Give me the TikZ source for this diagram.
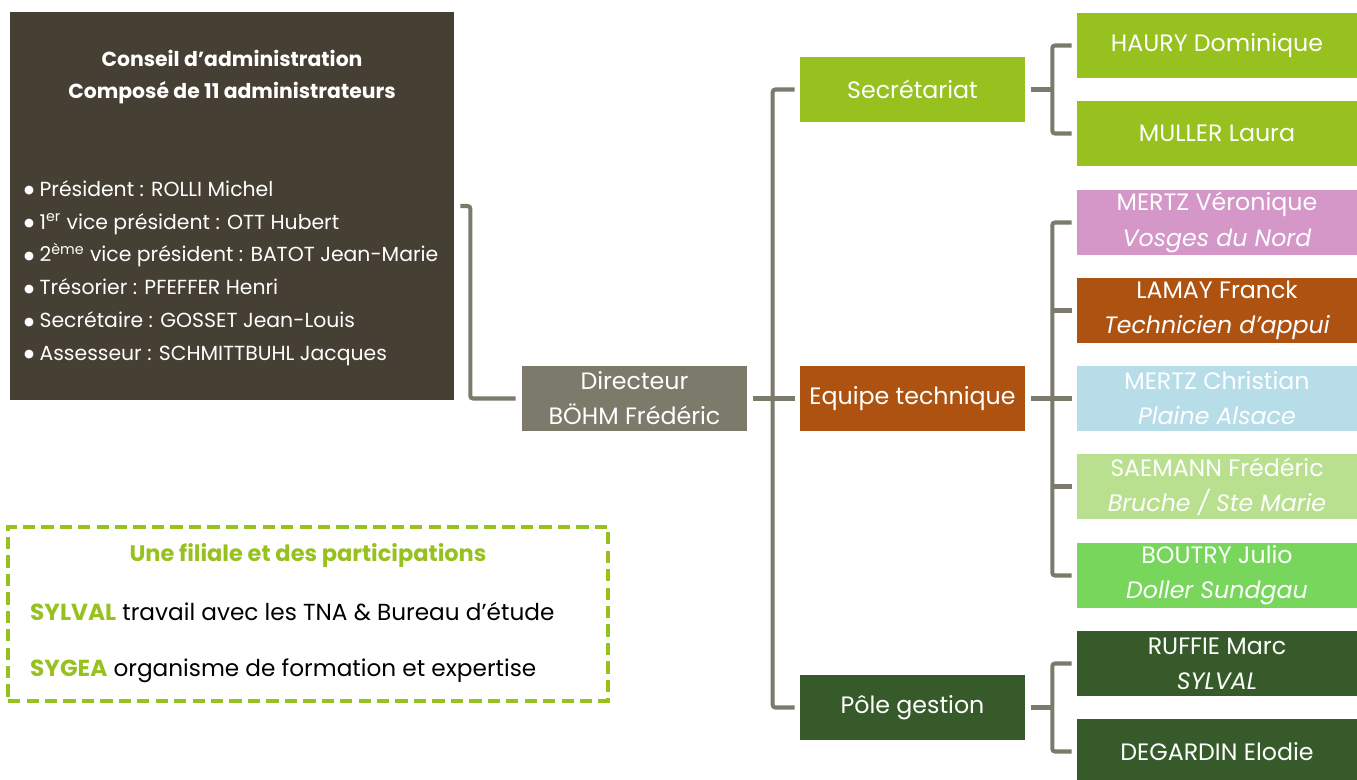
\documentclass[tikz,border=0pt]{standalone}
\usepackage{fontspec}
\setmainfont{Poppins}
\newfontfamily\symfont{DejaVu Sans}
\usetikzlibrary{positioning}
\definecolor{board}{HTML}{463F34}
\definecolor{slate}{HTML}{7B7A6B}
\definecolor{lime}{HTML}{96C11F}
\definecolor{rust}{HTML}{AD5211}
\definecolor{orchid}{HTML}{D596C8}
\definecolor{ice}{HTML}{B6DDE8}
\definecolor{pale}{HTML}{B9E08F}
\definecolor{meadow}{HTML}{77D65B}
\definecolor{forest}{HTML}{365A29}
\newcommand\dotitem{\raisebox{1.4pt}{\symfont\fontsize{6.5}{6}\selectfont ●}\ }
\newcommand\branch[3]{% parent, first child, last child
  \draw[link] ([shift={(6,0)}]#1.east) -- ++(21,0) coordinate (j);
  \draw[link] ([shift={(-5,0)}]#2.west) -| (j) |- ([shift={(-5,0)}]#3.west);
}
\tikzset{
  box/.style={fill=#1, text=white, minimum width=4.5cm, minimum height=1.3cm,
    inner sep=0pt, align=center, font=\fontsize{13.5}{20}\selectfont},
  staff/.style={box=#1, minimum width=5.6cm},
  link/.style={draw=slate, line width=2.3pt, rounded corners=1.5pt},
  dashbox/.style={draw=lime, line width=2pt, dash pattern=on 7pt off 3.5pt}
}
\begin{document}
\begin{tikzpicture}[x=0.02cm,y=-0.02cm]
		\useasboundingbox (0,0) rectangle (1357,780);

		\node[fill=board, minimum width=8.88cm, minimum height=7.76cm] (council) at (232,206) {};
		\node[text=white, align=center, font=\bfseries\fontsize{11.6}{18}\selectfont] (title) at (232,77)
			{Conseil d'administration\\Composé de 11 administrateurs};
		\node[text=white, align=left, anchor=west, font=\fontsize{11.6}{18.7}\selectfont] (members) at (18,273)
			{\dotitem Président : ROLLI Michel\\
			 \dotitem 1\textsuperscript{er} vice président : OTT Hubert\\
			 \dotitem 2\textsuperscript{ème} vice président : BATOT Jean-Marie\\
			 \dotitem Trésorier : PFEFFER Henri\\
			 \dotitem Secrétaire : GOSSET Jean-Louis\\
			 \dotitem Assesseur : SCHMITTBUHL Jacques};

		\node[box=slate] (dir) at (634.5,398.5) {Directeur\\BÖHM Frédéric};

		\node[box=lime] (secr) at (912.5,89.5) {Secrétariat};
		\node[box=rust] (equipe) at (912.5,398.5) {Equipe technique};
		\node[box=forest] (pole) at (912.5,707.5) {Pôle gestion};

		\node[staff=lime] (haury) at (1217,45.5) {HAURY Dominique};
		\node[staff=lime] (muller) at (1217,133.5) {MULLER Laura};
		\node[staff=orchid] (veronique) at (1217,222.5) {MERTZ Véronique\\\textit{Vosges du Nord}};
		\node[staff=rust] (lamay) at (1217,310.5) {LAMAY Franck\\\textit{Technicien d'appui}};
		\node[staff=ice] (christian) at (1217,398.5) {MERTZ Christian\\\textit{Plaine Alsace}};
		\node[staff=pale] (saemann) at (1217,486.5) {SAEMANN Frédéric\\\textit{Bruche / Ste Marie}};
		\node[staff=meadow] (boutry) at (1217,575.5) {BOUTRY Julio\\\textit{Doller Sundgau}};
		\node[staff=forest] (ruffie) at (1217,663.5) {RUFFIE Marc\\\textit{SYLVAL}};
		\node[staff=forest] (degardin) at (1217,751.5) {DEGARDIN Elodie};

		\draw[link] ([shift={(6,0)}]council.east) -- ++(10,0) |- ([shift={(-6,0)}]dir.west);
		\draw[link] ([shift={(6,0)}]dir.east) -- ([shift={(-5,0)}]equipe.west);
		\draw[link] ([shift={(-5,0)}]secr.west) -- ++(-22,0) |- ([shift={(-5,0)}]pole.west);

		\branch{secr}{haury}{muller}
		\branch{equipe}{veronique}{boutry}
		\foreach \c in {lamay,christian,saemann}
			\draw[link] (j |- \c.west) -- ([shift={(-5,0)}]\c.west);
		\branch{pole}{ruffie}{degardin}

		\node[dashbox, minimum width=12cm, minimum height=3.48cm] (filiale) at (308,614) {};
		\node[text=lime, font=\bfseries\fontsize{12.8}{14}\selectfont] (ftitle) at (308,555) {Une filiale et des participations};
		\node[anchor=west, font=\fontsize{13.2}{14}\selectfont] (sylval) at (24,612)
			{\textcolor{lime}{\bfseries SYLVAL} travail avec les TNA \& Bureau d’étude};
		\node[anchor=west, font=\fontsize{13.2}{14}\selectfont] (sygea) at (24,671)
			{\textcolor{lime}{\bfseries SYGEA} organisme de formation et expertise};
	\end{tikzpicture}
\end{document}
